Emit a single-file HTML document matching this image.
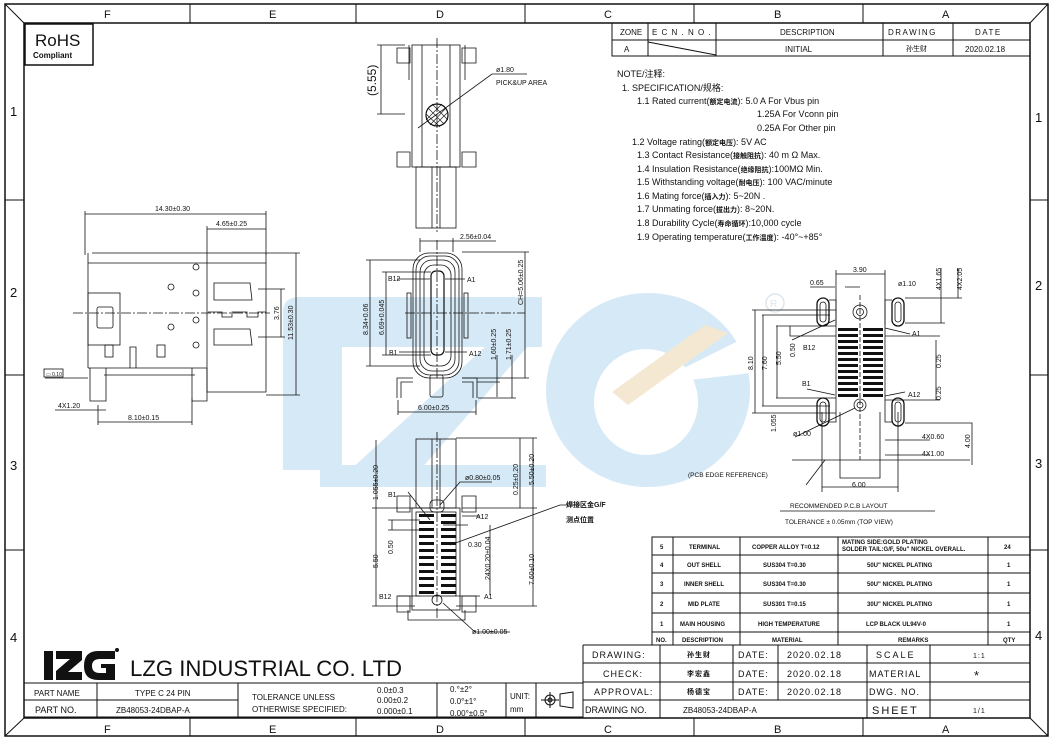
<!DOCTYPE html>
<html><head><meta charset="utf-8"><style>
html,body{margin:0;padding:0;background:#fff;}
svg{display:block;}
text{font-family:"Liberation Sans","Noto Sans CJK SC",sans-serif;fill:#111;}
.t{font-size:8px;}
.s{font-size:9px;}
.n{font-size:10px;}
.b{font-weight:bold;}
</style></head><body>
<svg width="1052" height="743" viewBox="0 0 1052 743" xmlns="http://www.w3.org/2000/svg">
<rect width="1052" height="743" fill="#fff"/>
<!-- watermark -->
<g fill="#d6e9f6">
<path d="M283,312 Q283,297 300,297 L542,297 L542,347 L342,347 L342,470 L283,470 Z"/>
<polygon points="485,347 542,330 420,470 350,470"/>
<rect x="320" y="465" width="226" height="22"/>
<ellipse cx="648" cy="390" rx="102" ry="97"/>
</g>
<ellipse cx="646" cy="402" rx="52" ry="53" fill="#fff"/>
<polygon points="660,380 760,330 760,372 690,380" fill="#fff"/>
<polygon points="612,392 705,325 728,333 628,405" fill="#f4e8d3"/>
<circle cx="775" cy="303" r="9" fill="none" stroke="#dde6ee" stroke-width="1.5"/>
<text x="770" y="307" style="font-size:10px;fill:#dde6ee">R</text>

<g stroke="#111" fill="none" stroke-width="1">
<rect x="5" y="4" width="1043" height="732" stroke-width="1.5"/>
<rect x="24" y="23" width="1006" height="695" stroke-width="1.5"/>
<line x1="5" y1="4" x2="24" y2="23"/><line x1="1048" y1="4" x2="1030" y2="23"/>
<line x1="5" y1="736" x2="24" y2="718"/><line x1="1048" y1="736" x2="1030" y2="718"/>
<path d="M190,4V23M356,4V23M525,4V23M694,4V23M863,4V23M190,718V736M356,718V736M525,718V736M694,718V736M863,718V736"/>
<path d="M5,200H24M5,375H24M5,550H24M1030,200H1048M1030,375H1048M1030,550H1048"/>
<rect x="25" y="24" width="68" height="41" stroke-width="1.5"/>
<rect x="612" y="23" width="418" height="33"/>
<path d="M612,40H1030M648,23V56M716,23V56M883,23V56M953,23V56M648,42L716,55"/>
<rect x="652" y="537" width="378" height="108"/>
<path d="M652,555H1030M652,573H1030M652,593H1030M652,613H1030M652,632H1030M673,537V645M740,537V645M838,537V645M988,537V645"/>
<path d="M583,645V718M583,645H1030M583,663H1030M583,682H1030M583,700H1030M660,645V718M733,645V700M778,645V700M867,645V718M930,645V718"/>
<path d="M24,683H583M24,700H238M24,717H583M97,683V717M238,683V717M437,683V717M506,683V717M536,683V717"/>
</g>
<g class="n" style="font-size:11px">
<text x="104" y="18">F</text><text x="269" y="18">E</text><text x="436" y="18">D</text><text x="604" y="18">C</text><text x="774" y="18">B</text><text x="942" y="18">A</text>
<text x="104" y="733">F</text><text x="269" y="733">E</text><text x="436" y="733">D</text><text x="604" y="733">C</text><text x="774" y="733">B</text><text x="942" y="733">A</text>
<text x="10" y="116" style="font-size:13px">1</text><text x="10" y="297" style="font-size:13px">2</text><text x="10" y="470" style="font-size:13px">3</text><text x="10" y="642" style="font-size:13px">4</text>
<text x="1035" y="122" style="font-size:13px">1</text><text x="1035" y="290" style="font-size:13px">2</text><text x="1035" y="468" style="font-size:13px">3</text><text x="1035" y="640" style="font-size:13px">4</text>
</g>
<text x="35" y="46" style="font-size:17px">RoHS</text>
<text x="33" y="58" class="t b">Compliant</text>
<g class="t">
<text x="620" y="35">ZONE</text><text x="652" y="35" style="letter-spacing:1px">E C N . N O .</text><text x="780" y="35">DESCRIPTION</text><text x="888" y="35" style="letter-spacing:1.5px">DRAWING</text><text x="975" y="35" style="letter-spacing:1.5px">DATE</text>
<text x="624" y="52">A</text><text x="785" y="52">INITIAL</text><text x="906" y="51" style="font-size:7px">孙生财</text><text x="965" y="52">2020.02.18</text>
</g>
<g class="s">
<text x="617" y="77">NOTE/注释:</text>
<text x="622" y="91">1. SPECIFICATION/规格:</text>
<text x="637" y="104">1.1  Rated current(<tspan style="font-size:7px" class="b">额定电流</tspan>): 5.0 A For Vbus pin</text>
<text x="757" y="117">1.25A For Vconn pin</text>
<text x="757" y="131">0.25A For Other pin</text>
<text x="632" y="145">1.2 Voltage rating(<tspan style="font-size:7px" class="b">额定电压</tspan>): 5V AC</text>
<text x="637" y="158">1.3  Contact Resistance(<tspan style="font-size:7px" class="b">接触阻抗</tspan>): 40 m Ω Max.</text>
<text x="637" y="172">1.4  Insulation Resistance(<tspan style="font-size:7px" class="b">绝缘阻抗</tspan>):100MΩ Min.</text>
<text x="637" y="185">1.5  Withstanding voltage(<tspan style="font-size:7px" class="b">耐电压</tspan>): 100 VAC/minute</text>
<text x="637" y="199">1.6  Mating force(<tspan style="font-size:7px" class="b">插入力</tspan>): 5~20N .</text>
<text x="637" y="212">1.7  Unmating force(<tspan style="font-size:7px" class="b">拔出力</tspan>): 8~20N.</text>
<text x="637" y="226">1.8  Durability Cycle(<tspan style="font-size:7px" class="b">寿命循环</tspan>):10,000  cycle</text>
<text x="637" y="240">1.9 Operating temperature(<tspan style="font-size:7px" class="b">工作温度</tspan>): -40°~+85°</text>
</g>
<g style="font-size:6px" class="b">
<text x="660" y="549">5</text><text x="689" y="549">TERMINAL</text><text x="752" y="549">COPPER ALLOY T=0.12</text><text x="842" y="544">MATING SIDE:GOLD PLATING</text><text x="842" y="551">SOLDER TAIL:G/F, 50u" NICKEL OVERALL.</text><text x="1004" y="549">24</text>
<text x="660" y="567">4</text><text x="687" y="567">OUT SHELL</text><text x="763" y="567">SUS304 T=0.30</text><text x="867" y="567">50U" NICKEL PLATING</text><text x="1007" y="567">1</text>
<text x="660" y="586">3</text><text x="684" y="586">INNER SHELL</text><text x="763" y="586">SUS304 T=0.30</text><text x="867" y="586">50U" NICKEL PLATING</text><text x="1007" y="586">1</text>
<text x="660" y="606">2</text><text x="688" y="606">MID PLATE</text><text x="763" y="606">SUS301 T=0.15</text><text x="867" y="606">30U" NICKEL PLATING</text><text x="1007" y="606">1</text>
<text x="660" y="626">1</text><text x="680" y="626">MAIN HOUSING</text><text x="758" y="626">HIGH TEMPERATURE</text><text x="866" y="626">LCP BLACK  UL94V-0</text><text x="1007" y="626">1</text>
<text x="656" y="642">NO.</text><text x="682" y="642">DESCRIPTION</text><text x="772" y="642">MATERIAL</text><text x="898" y="642">REMARKS</text><text x="1003" y="642">QTY</text>
</g>
<g class="s" style="letter-spacing:1px">
<text x="592" y="658">DRAWING:</text><text x="603" y="677">CHECK:</text><text x="594" y="695">APPROVAL:</text><text x="585" y="713" style="letter-spacing:0">DRAWING NO.</text>
<text x="738" y="658">DATE:</text><text x="738" y="677">DATE:</text><text x="738" y="695">DATE:</text>
<text x="787" y="658">2020.02.18</text><text x="787" y="677">2020.02.18</text><text x="787" y="695">2020.02.18</text>
<text x="876" y="658" style="letter-spacing:2px">SCALE</text><text x="869" y="677">MATERIAL</text><text x="869" y="695">DWG. NO.</text><text x="872" y="714" style="font-size:11px;letter-spacing:2px">SHEET</text>
<text x="973" y="658" style="font-size:7px">1:1</text><text x="974" y="680" style="font-size:13px">*</text><text x="973" y="713" style="font-size:7px">1/1</text>
<text x="683" y="713" style="font-size:8px;letter-spacing:0">ZB48053-24DBAP-A</text>
<text x="687" y="657" style="font-size:7px" class="b">孙生财</text><text x="687" y="676" style="font-size:7px" class="b">李宏鑫</text><text x="687" y="694" style="font-size:7px" class="b">杨德宝</text>
</g>
<!-- logo -->
<g fill="#111">
<rect x="44" y="651" width="9" height="29"/>
<path d="M56,651H82V660L68,672H82V680H56V671L70,659H56Z"/>
<path d="M98,651H115V659H100Q92,659 92,666Q92,673 100,673H106V668H101V664H115V680H98Q84,680 84,666Q84,651 98,651Z"/>
<circle cx="117" cy="650" r="2"/>
</g>
<text x="130" y="676" textLength="272" lengthAdjust="spacingAndGlyphs" style="font-size:22px;font-weight:300">LZG INDUSTRIAL CO. LTD</text>
<g class="t">
<text x="34" y="696">PART NAME</text><text x="35" y="713" class="s">PART NO.</text>
<text x="135" y="696">TYPE C 24 PIN</text><text x="116" y="713">ZB48053-24DBAP-A</text>
<text x="252" y="700">TOLERANCE UNLESS</text><text x="252" y="712">OTHERWISE SPECIFIED:</text>
<text x="377" y="693">0.0±0.3</text><text x="377" y="703">0.00±0.2</text><text x="377" y="714">0.000±0.1</text>
<text x="450" y="692">0.°±2°</text><text x="450" y="704">0.0°±1°</text><text x="450" y="716">0.00°±0.5°</text>
<text x="510" y="699">UNIT:</text><text x="510" y="712">mm</text>
</g>
<g stroke="#111" fill="none" stroke-width="1">
<circle cx="550" cy="700" r="5"/><circle cx="550" cy="700" r="2"/><path d="M541,700H559M550,692V708M560,694L573,692V708L560,706Z"/>
</g>

<!-- Side view -->
<g stroke="#111" fill="none" stroke-width="0.8">
<path d="M85,211V255M266,211V255M85,214H266M207,229H266M207,226V253"/>
<path d="M88,253V368M92,253H266M88,263H207M207,253V392H266V253M207,263H266"/>
<rect x="88" y="293" width="32" height="52"/>
<rect x="97" y="307" width="16" height="21" rx="2"/>
<rect x="105" y="345" width="8" height="12"/><rect x="157" y="345" width="8" height="12"/>
<path d="M130,368V347H136V368"/>
<circle cx="196" cy="267" r="3"/><circle cx="171" cy="287" r="3"/><circle cx="196" cy="293" r="3"/><circle cx="196" cy="320" r="3"/><circle cx="171" cy="327" r="3"/><circle cx="196" cy="345" r="3"/>
<path d="M88,368H207M104,375H195M90,368V401H106V368M192,368V401H207V368"/>
<path d="M214,283H250L252,300H214Z M214,329H250L252,345H214Z"/>
<path d="M208,312H222V317H232V312H247V317H258V312H266"/>
<path d="M73,313H270" stroke-dasharray="10,2,2,2"/>
<path d="M258,289H285M258,337H285M281,289V337"/>
<path d="M266,253H300M266,395H300M296,253V395"/>
<path d="M98,405V425M192,398V425M98,422H192"/>
<path d="M55,410H106M45,378H88"/>
<rect x="44" y="369" width="19" height="8"/>
</g>
<g class="t" style="font-size:7px">
<text x="155" y="211">14.30±0.30</text><text x="216" y="226">4.65±0.25</text>
<text x="128" y="420">8.10±0.15</text><text x="58" y="408">4X1.20</text><text x="46" y="376" style="font-size:5px">▭ 0.10</text>
<text transform="translate(293,340) rotate(-90)">11.53±0.30</text>
<text transform="translate(279,320) rotate(-90)">3.76</text>
</g>

<!-- Top view -->
<g stroke="#111" fill="none" stroke-width="0.8">
<rect x="412" y="45" width="48" height="122"/>
<path d="M422,45V167M450,45V167"/>
<path d="M397,48H410V63H397Z M462,48H476V63H462Z M397,152H410V167H397Z M462,152H476V167H462Z"/>
<path d="M409,45V80M465,45V80"/>
<rect x="416" y="167" width="40" height="61"/>
<path d="M432,167V228M440,167V228"/>
<path d="M437,38V232" stroke-dasharray="10,2,2,2"/>
<circle cx="437" cy="115" r="11" stroke-width="1.2"/>
<path d="M428,108L444,124M432,104L448,120M426,114L440,127M430,125L446,108M426,120L442,104M434,126L448,112" stroke-width="0.6"/>
<path d="M418,128L492,74H527"/>
<path d="M377,45H405M377,114H405M381,45V114"/>
</g>
<text x="496" y="72" class="t" style="font-size:7px">ø1.80</text>
<text x="496" y="85" class="t" style="font-size:7px">PICK&amp;UP AREA</text>
<text transform="translate(376,96) rotate(-90)" style="font-size:12px">(5.55)</text>

<!-- Front view -->
<g stroke="#111" fill="none" stroke-width="0.8">
<path d="M420,238V252M453,238V252M420,241H496"/>
<rect x="413" y="253" width="49" height="125" rx="16"/>
<rect x="416" y="256" width="43" height="119" rx="14"/>
<rect x="420" y="260" width="35" height="111" rx="12"/>
<rect x="424" y="265" width="27" height="101" rx="10"/>
<rect x="431" y="271" width="13" height="84" rx="5" stroke-width="1.2"/>
<rect x="407" y="293" width="4" height="45"/><rect x="464" y="293" width="4" height="45"/>
<path d="M397,398V378H413M477,398V378H462M401,398V382H413M473,398V382H462"/>
<rect x="430" y="375" width="13" height="22" rx="2"/>
<path d="M437,240V380M405,313H525" stroke-dasharray="10,2,2,2"/>
<path d="M398,400V415M476,400V415M398,412H476"/>
<path d="M366,260H420M366,366H420M370,260V366M382,272H431M382,355H431M386,272V355"/>
<path d="M462,252H529M462,378H529M525,252V378M477,382H500M497,355V397M478,398H516M512,355V398"/>
<path d="M397,279H430M445,279H465M399,352H430M445,352H467"/>
</g>
<g class="t" style="font-size:7px">
<text x="460" y="239">2.56±0.04</text><text x="418" y="410">6.00±0.25</text>
<text x="388" y="281">B12</text><text x="467" y="282">A1</text><text x="389" y="355">B1</text><text x="469" y="356">A12</text>
<text transform="translate(368,335) rotate(-90)">8.34+0.06</text>
<text transform="translate(384,335) rotate(-90)">6.69+0.045</text>
<text transform="translate(523,305) rotate(-90)">CH=5.06±0.25</text>
<text transform="translate(496,360) rotate(-90)">1.60±0.25</text>
<text transform="translate(511,360) rotate(-90)">1.71±0.25</text>
</g>

<!-- Bottom view -->
<g stroke="#111" fill="none" stroke-width="0.8">
<rect x="416" y="439" width="40" height="69"/>
<path d="M432,439V508M440,439V508"/>
<path d="M437,432V620" stroke-dasharray="10,2,2,2"/>
<rect x="412" y="508" width="48" height="102"/>
<rect x="416" y="512" width="40" height="84"/>
<path d="M397,496H410V512H397Z M462,496H476V512H462Z M397,596H410V612H397Z M462,596H476V612H462Z"/>
<path d="M408,610V620H465V610"/>
<rect x="430" y="500" width="14" height="12" rx="4"/>
<circle cx="437" cy="600" r="5"/>
<path d="M372,508H415M372,606H415M376,440V508M376,508V606M388,520H420M388,530H420M392,520V530"/>
<path d="M456,438H537M462,508H537M520,438V508M533,438V606M456,606H537M490,525V595"/>
<path d="M408,492L430,520M462,516L480,516M398,596H420M455,596H480M443,525H468M440,505L460,482H492M443,603L475,632H510"/>
<path d="M450,545L560,505H580"/>
</g>
<g fill="#111">
<rect x="419" y="514" width="15" height="3"/><rect x="441" y="514" width="15" height="3"/>
<rect x="419" y="521" width="15" height="3"/><rect x="441" y="521" width="15" height="3"/>
<rect x="419" y="528" width="15" height="3"/><rect x="441" y="528" width="15" height="3"/>
<rect x="419" y="535" width="15" height="3"/><rect x="441" y="535" width="15" height="3"/>
<rect x="419" y="542" width="15" height="3"/><rect x="441" y="542" width="15" height="3"/>
<rect x="419" y="549" width="15" height="3"/><rect x="441" y="549" width="15" height="3"/>
<rect x="419" y="556" width="15" height="3"/><rect x="441" y="556" width="15" height="3"/>
<rect x="419" y="563" width="15" height="3"/><rect x="441" y="563" width="15" height="3"/>
<rect x="419" y="570" width="15" height="3"/><rect x="441" y="570" width="15" height="3"/>
<rect x="419" y="577" width="15" height="3"/><rect x="441" y="577" width="15" height="3"/>
<rect x="419" y="584" width="15" height="3"/><rect x="441" y="584" width="15" height="3"/>
<rect x="419" y="591" width="15" height="3"/><rect x="441" y="591" width="15" height="3"/>
</g>
<g class="t" style="font-size:7px">
<text x="388" y="497">B1</text><text x="476" y="519">A12</text><text x="379" y="599">B12</text><text x="484" y="599">A1</text>
<text x="468" y="547">0.30</text><text x="465" y="480">ø0.80±0.05</text><text x="472" y="634">ø1.00±0.05</text>
<text x="566" y="507" class="b">焊接区金G/F</text><text x="566" y="522" class="b">测点位置</text>
<text transform="translate(378,500) rotate(-90)">1.055±0.20</text>
<text transform="translate(378,568) rotate(-90)">5.50</text>
<text transform="translate(393,554) rotate(-90)">0.50</text>
<text transform="translate(518,495) rotate(-90)">0.25±0.20</text>
<text transform="translate(534,485) rotate(-90)">5.50±0.20</text>
<text transform="translate(534,585) rotate(-90)">7.60±0.10</text>
<text transform="translate(490,580) rotate(-90)">24X0.20±0.04</text>
</g>

<!-- PCB layout -->
<g stroke="#111" fill="none" stroke-width="0.8">
<path d="M836,270V325M885,270V325M836,274H885M810,287H835M845,287H860"/>
<rect x="817" y="298" width="12" height="28" rx="6" stroke-width="1.3"/><rect x="820" y="302" width="6" height="20" rx="3"/>
<rect x="892" y="298" width="12" height="28" rx="6" stroke-width="1.3"/><rect x="895" y="302" width="6" height="20" rx="3"/>
<rect x="817" y="398" width="12" height="28" rx="6" stroke-width="1.3"/><rect x="820" y="402" width="6" height="20" rx="3"/>
<rect x="892" y="398" width="12" height="28" rx="6" stroke-width="1.3"/><rect x="895" y="402" width="6" height="20" rx="3"/>
<circle cx="860" cy="312" r="7"/><circle cx="860" cy="312" r="3.5"/>
<circle cx="860" cy="405" r="6"/><circle cx="860" cy="405" r="3"/>
<path d="M860,295V460" stroke-dasharray="5,2"/>
<path d="M836,325V398M885,325V398M829,300H836V325M892,300H885V325M829,422H836V398M892,422H885V398"/>
<path d="M752,310H836M762,315H830M776,326H836M752,413H836M762,406H830M776,398H836M755,310V413M763,315V406M777,326V398M790,326V336H836"/>
<path d="M905,298H962M905,323H945M941,268V323M958,268V298M885,336H940M885,400H940M936,340V400"/>
<path d="M840,412V478H880V412M822,412V492M898,412V492M822,487H898M905,423H972V465M792,460H970M885,440H930M885,455H930"/>
<path d="M792,340L835,320M807,389L835,395M885,328L910,334M885,396L905,392M795,437L855,408M806,485L825,460"/>
<path d="M780,511H935"/>
</g>
<g fill="#111">
<rect x="838" y="328" width="20" height="3"/><rect x="863" y="328" width="20" height="3"/>
<rect x="838" y="334" width="20" height="3"/><rect x="863" y="334" width="20" height="3"/>
<rect x="838" y="340" width="20" height="3"/><rect x="863" y="340" width="20" height="3"/>
<rect x="838" y="346" width="20" height="3"/><rect x="863" y="346" width="20" height="3"/>
<rect x="838" y="352" width="20" height="3"/><rect x="863" y="352" width="20" height="3"/>
<rect x="838" y="358" width="20" height="3"/><rect x="863" y="358" width="20" height="3"/>
<rect x="838" y="364" width="20" height="3"/><rect x="863" y="364" width="20" height="3"/>
<rect x="838" y="370" width="20" height="3"/><rect x="863" y="370" width="20" height="3"/>
<rect x="838" y="376" width="20" height="3"/><rect x="863" y="376" width="20" height="3"/>
<rect x="838" y="382" width="20" height="3"/><rect x="863" y="382" width="20" height="3"/>
<rect x="838" y="388" width="20" height="3"/><rect x="863" y="388" width="20" height="3"/>
<rect x="838" y="394" width="20" height="3"/><rect x="863" y="394" width="20" height="3"/>
</g>
<g class="t" style="font-size:7px">
<text x="853" y="272">3.90</text><text x="810" y="285">0.65</text><text x="898" y="286">ø1.10</text>
<text x="803" y="350">B12</text><text x="912" y="336">A1</text><text x="802" y="386">B1</text><text x="908" y="397">A12</text>
<text x="793" y="436">ø1.00</text><text x="922" y="439">4X0.60</text><text x="922" y="456">4X1.00</text><text x="852" y="487">6.00</text>
<text transform="translate(941,290) rotate(-90)">4X1.65</text><text transform="translate(962,290) rotate(-90)">4X2.05</text>
<text transform="translate(941,368) rotate(-90)">0.25</text><text transform="translate(941,400) rotate(-90)">0.25</text>
<text transform="translate(970,448) rotate(-90)">4.00</text>
<text transform="translate(753,370) rotate(-90)">8.10</text><text transform="translate(767,370) rotate(-90)">7.60</text>
<text transform="translate(781,365) rotate(-90)">5.50</text><text transform="translate(795,357) rotate(-90)">0.50</text>
<text transform="translate(776,432) rotate(-90)">1.055</text>
<text x="688" y="477" style="font-size:6.5px">(PCB EDGE REFERENCE)</text>
<text x="790" y="508" style="font-size:6.5px">RECOMMENDED P.C.B LAYOUT</text>
<text x="785" y="524" style="font-size:6.5px">TOLERANCE ± 0.05mm (TOP VIEW)</text>
</g>
</svg>
</body></html>
